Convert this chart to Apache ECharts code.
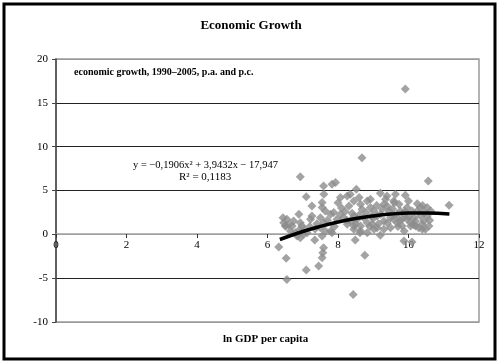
<!DOCTYPE html>
<html>
<head>
<meta charset="utf-8">
<script src="https://cdn.jsdelivr.net/npm/echarts@6/dist/echarts.min.js"></script>
<style>html,body{margin:0;padding:0;background:#fff}#c{width:500px;height:364px}</style>
</head>
<body>
<div id="c"></div>
<script>
const chartTitle = 'Economic Growth';
const noteText = 'economic growth, 1990–2005, p.a. and p.c.';
const equationText = 'y = −0,1906x² + 3,9432x − 17,947';
const r2Text = 'R² = 0,1183';
const xAxisName = 'ln GDP per capita';
const xTicks = [0, 2, 4, 6, 8, 10, 12];
const yTicks = [-10, -5, 0, 5, 10, 15, 20];

// scatter values: ln GDP per capita (x), growth (y)
const gdpX = [
  6.46,6.55,6.74,6.89,6.93,6.98,7.03,6.65,6.79,6.84,6.93,7.03,7.12,6.51,6.70,7.22,7.26,7.26,7.55,7.60,
  7.55,7.64,7.50,7.79,7.88,7.60,7.50,7.64,7.79,7.55,7.83,
  8.07,8.26,8.35,8.31,8.45,8.64,8.68,8.83,8.92,8.92,9.02,9.11,8.73,8.54,8.45,8.35,8.26,8.16,8.07,7.97,
  8.45,8.64,8.83,8.97,9.11,9.30,9.30,9.35,9.39,9.44,9.49,9.21,8.83,8.64,8.45,9.02,9.30,9.49,
  9.58,9.63,9.73,9.77,9.87,9.96,10.06,10.15,10.25,10.34,10.44,10.53,10.58,10.48,10.39,10.29,10.20,10.06,
  9.82,9.68,9.58,9.68,9.82,9.96,10.10,10.34,10.53,10.63,
  6.93,7.59,7.83,7.93,10.56,8.52,7.10,9.20,9.91,11.15,10.25,6.32,6.53,6.55,7.10,7.45,7.55,7.57,7.59,7.34,
  8.43,8.76,8.49,8.62,9.20,9.87,10.10,9.88,10.39,9.91,8.68,6.44,6.51,
  8.10,8.20,8.40,8.60,8.80,9.00,9.10,9.25,9.40,9.55,9.60,9.90,10.00,10.20,10.45,10.60,8.50,8.90,9.40,9.70,
  7.90,7.70,7.40,7.20,6.90,8.00,8.60,9.60,10.00,10.40,8.25,8.95,9.15,9.75,10.15,7.35,6.60
];
const growthY = [
  1.33,1.71,1.52,2.28,1.33,0.95,0.57,0.38,0.19,-0.19,-0.38,0.00,0.19,0.95,0.95,1.71,2.09,3.24,3.62,4.57,
  3.05,2.67,1.90,2.28,2.48,1.33,0.76,0.38,0.38,-0.19,0.19,
  4.19,4.38,4.57,3.24,3.81,3.43,2.86,3.81,4.00,3.05,2.67,2.09,1.90,1.71,2.09,1.52,1.14,1.90,2.28,1.71,
  0.95,0.95,1.33,1.14,0.76,1.52,3.43,4.00,4.38,2.67,1.90,2.28,0.19,0.38,0.57,0.57,0.57,0.76,
  3.81,4.57,3.43,2.67,2.28,1.71,1.33,1.90,2.67,2.09,1.52,2.09,0.95,0.57,1.14,0.76,0.95,0.95,
  0.95,1.33,1.71,2.28,1.71,3.05,2.67,3.05,3.05,2.67,
  6.58,5.52,5.71,5.90,6.09,5.14,4.30,4.70,4.46,3.31,3.50,-1.45,-2.74,-5.14,-4.08,-3.62,-2.67,-2.10,-1.53,-0.65,
  -6.86,-2.40,-0.65,0.18,-0.11,-0.77,-0.88,0.38,0.57,16.57,8.75,1.90,0.95,
  3.00,2.60,2.40,2.20,2.50,1.80,3.30,2.90,3.20,2.90,2.20,2.60,2.00,1.50,2.50,1.60,1.20,0.90,1.30,0.90,
  0.90,1.60,1.20,0.90,0.50,3.60,4.20,3.60,3.80,3.30,1.60,2.00,1.20,1.60,1.10,0.60,1.10
];

// polynomial trendline, points
const trendX = [6.35, 7.0, 7.5, 8.0, 8.5, 9.0, 9.5, 10.0, 10.5, 11.16];
const trendY = [-0.59, 0.32, 0.91, 1.40, 1.80, 2.10, 2.31, 2.43, 2.44, 2.32];

const serif = '"Liberation Serif", "Times New Roman", serif';
const chart = echarts.init(document.getElementById('c'), null, {renderer: 'canvas'});
chart.setOption({
  animation: false,
  backgroundColor: '#fff',
  title: {
    text: chartTitle, left: 246, top: 14, textAlign: 'center',
    textStyle: {fontFamily: serif, fontSize: 13, fontWeight: 'bold', color: '#000'}
  },
  grid: {left: 56, right: 21, top: 59, bottom: 42, show: true, borderColor: '#9a9a9a', borderWidth: 1.5},
  xAxis: {
    type: 'value', min: xTicks[0], max: xTicks[xTicks.length - 1], interval: 2,
    position: 'bottom', offset: -88,
    axisLine: {onZero: false, lineStyle: {color: '#a0a0a0', width: 1.5}},
    axisTick: {show: true, length: 4, lineStyle: {color: '#333'}},
    axisLabel: {fontFamily: serif, fontSize: 11, color: '#000', margin: 6},
    splitLine: {show: false}
  },
  yAxis: {
    type: 'value', min: yTicks[0], max: yTicks[yTicks.length - 1], interval: 5,
    axisLine: {show: true, onZero: false, lineStyle: {color: '#444', width: 1.5}},
    axisTick: {show: true, length: 4, lineStyle: {color: '#444'}},
    axisLabel: {fontFamily: serif, fontSize: 11, color: '#000', margin: 8},
    splitLine: {show: true, lineStyle: {color: ['#9a9a9a', '#222', '#a0a0a0', '#222', '#222', '#222', '#9a9a9a'], width: 1.2}}
  },
  series: [
    {
      type: 'scatter', symbol: 'diamond', symbolSize: 9,
      itemStyle: {color: '#8c8c8c'},
      data: gdpX.map((x, i) => [x, growthY[i]]),
      z: 2
    },
    {
      type: 'line', smooth: true, symbol: 'none',
      lineStyle: {color: '#000', width: 3.5},
      data: trendX.map((x, i) => [x, trendY[i]]),
      z: 3
    }
  ],
  graphic: [
    {type: 'rect', shape: {x: 4, y: 4, width: 491, height: 355}, style: {fill: 'none', stroke: '#000', lineWidth: 3}, z: 10},
    {type: 'text', left: 74, top: 67, style: {text: noteText, font: 'bold 10px ' + serif, fill: '#000'}},
    {type: 'text', left: 133, top: 160, style: {text: equationText, font: '10.5px ' + serif, fill: '#000'}},
    {type: 'text', left: 179, top: 172, style: {text: r2Text, font: '11px ' + serif, fill: '#000'}},
    {type: 'text', left: 223, top: 334, style: {text: xAxisName, font: 'bold 11px ' + serif, fill: '#000'}}
  ]
});
</script>
</body>
</html>
